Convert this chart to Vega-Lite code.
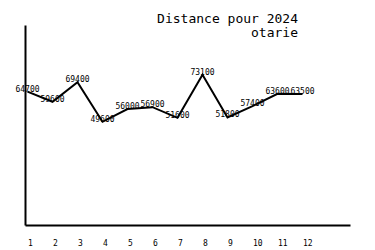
{
  "$schema": "https://vega.github.io/schema/vega-lite/v6.json",
  "autosize": "none",
  "width": 325,
  "height": 200,
  "padding": {"left": 25, "top": 25, "right": 25, "bottom": 25},
  "background": "white",
  "title": {
    "text": ["Distance pour 2024", "otarie\u00a0"],
    "anchor": "end",
    "align": "right",
    "font": "DejaVu Sans Mono",
    "fontSize": 13,
    "fontWeight": "normal",
    "color": "black",
    "lineHeight": 14,
    "dx": -52,
    "offset": -15
  },
  "data": {
    "values": [
      {"mois": 1, "distance": 64700},
      {"mois": 2, "distance": 59600},
      {"mois": 3, "distance": 69400},
      {"mois": 4, "distance": 49600},
      {"mois": 5, "distance": 56000},
      {"mois": 6, "distance": 56900},
      {"mois": 7, "distance": 51600},
      {"mois": 8, "distance": 73100},
      {"mois": 9, "distance": 51800},
      {"mois": 10, "distance": 57400},
      {"mois": 11, "distance": 63600},
      {"mois": 12, "distance": 63500}
    ]
  },
  "encoding": {
    "x": {
      "field": "mois",
      "type": "quantitative",
      "scale": {"domain": [0.9, 13.9], "nice": false, "zero": false},
      "axis": {
        "values": [1, 2, 3, 4, 5, 6, 7, 8, 9, 10, 11, 12],
        "title": null,
        "grid": false,
        "ticks": false,
        "domainColor": "black",
        "domainWidth": 2,
        "labelAlign": "left",
        "labelBaseline": "top",
        "labelPadding": 14,
        "labelOffset": 0,
        "labelFont": "DejaVu Sans Mono",
        "labelFontSize": 8,
        "labelColor": "black",
        "labelFlush": false,
        "labelOverlap": false
      }
    },
    "y": {
      "field": "distance",
      "type": "quantitative",
      "scale": {"domain": [-2000, 98000], "nice": false, "zero": false},
      "axis": {
        "title": null,
        "grid": false,
        "ticks": false,
        "labels": false,
        "domainColor": "black",
        "domainWidth": 2
      }
    }
  },
  "layer": [
    {"mark": {"type": "line", "color": "black", "strokeWidth": 2}},
    {
      "mark": {
        "type": "text",
        "align": "center",
        "baseline": "alphabetic",
        "font": "DejaVu Sans Mono",
        "fontSize": 8,
        "color": "black"
      },
      "encoding": {"text": {"field": "distance", "type": "quantitative", "format": "d"}}
    }
  ],
  "config": {"view": {"stroke": null}}
}
